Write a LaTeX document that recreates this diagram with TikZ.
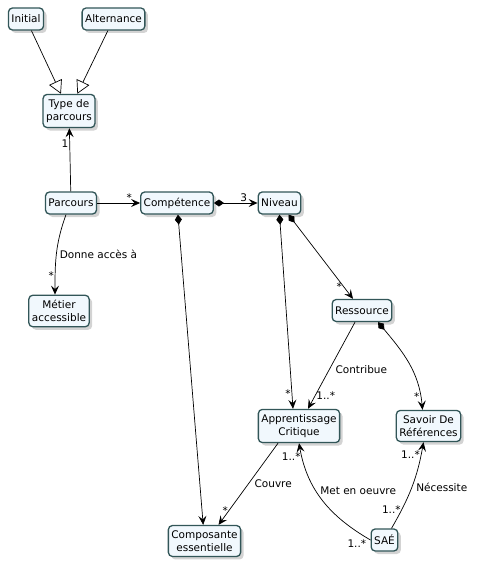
\documentclass[tikz,border=0pt]{standalone}
\usepackage{fontspec}
\setmainfont{DejaVu Sans}
\usetikzlibrary{positioning,arrows.meta,shadows}
\definecolor{boxfill}{RGB}{241,248,253}
\definecolor{boxline}{RGB}{50,86,88}
\tikzset{
  classe/.style={draw=boxline,fill=boxfill,line width=1.3pt,rounded corners=4pt,
    align=center,inner xsep=3pt,inner ysep=5pt,minimum height=22pt,
    font=\fontsize{10.5}{13}\selectfont,
    drop shadow={shadow xshift=3pt,shadow yshift=-3pt,opacity=0.35}},
  lien/.style={arrows={-Stealth[length=9pt,width=8pt,inset=3.5pt]},line width=0.7pt},
  compose/.style={arrows={Diamond[length=10pt,width=7pt]-Stealth[length=9pt,width=8pt,inset=3.5pt]},line width=0.7pt},
  herite/.style={arrows={-Triangle[open,length=13pt,width=14pt,fill=white]},line width=0.7pt},
  etiq/.style={font=\fontsize{10.5}{12}\selectfont,inner sep=1pt},
  mult/.style={font=\fontsize{10.5}{11}\selectfont,inner sep=1pt}
}
\begin{document}
\begin{tikzpicture}[x=1pt,y=1pt,on grid]
  \useasboundingbox (0,0) rectangle (484,-572);
  \node[classe] (parcours) at (71,-203) {Parcours};
  \node[classe] (competence) [right=106pt of parcours] {Compétence};
  \node[classe] (niveau) [right=102.5pt of competence] {Niveau};
  \node[classe] (type) [above=92pt of parcours,xshift=-2pt] {Type de\\parcours};
  \node[classe] (initial) [above left=92pt and 43pt of type] {Initial};
  \node[classe] (alternance) [above right=92pt and 44.5pt of type] {Alternance};
  \node[classe] (metier) [below left=108pt and 12pt of parcours] {Métier\\accessible};
  \node[classe] (ressource) [below right=107.5pt and 82.5pt of niveau] {Ressource};
  \node[classe] (apprentissage) [below left=115.5pt and 63pt of ressource] {Apprentissage\\Critique};
  \node[classe] (savoir) [right=129.5pt of apprentissage] {Savoir De\\Références};
  \node[classe] (composante) [below left=115pt and 94.5pt of apprentissage] {Composante\\essentielle};
  \node[classe] (sae) [below left=114pt and 44pt of savoir] {SAÉ};

  \draw[herite] (initial) -- (type);
  \draw[herite] (alternance) -- (type);
  \draw[lien] (parcours) -- node[mult,pos=0.76,left] {1} (type);
  \draw[lien] (parcours) -- node[mult,pos=0.75,above] {*} (competence);
  \draw[compose] (competence) -- node[etiq,pos=0.68,above] {3} (niveau);
  \draw[compose] (competence) -- (composante);
  \draw[lien] ([xshift=-5pt]parcours.south) to[out=-110,in=90]
    node[etiq,pos=0.5,right=2pt] {Donne accès à}
    node[mult,pos=0.78,left] {*} ([xshift=-4pt]metier.north);
  \draw[compose] (niveau.south) -- node[mult,pos=0.92,left] {*} ([xshift=-6pt]apprentissage.north);
  \draw[compose] ([xshift=9pt]niveau.south) -- node[mult,pos=0.85,left] {*} ([xshift=-9pt]ressource.north);
  \draw[lien] ([xshift=-7pt]ressource.south) --
    node[etiq,pos=0.55,right=5pt] {Contribue}
    node[mult,pos=0.85,right] {1..*} ([xshift=9pt]apprentissage.north);
  \draw[compose] ([xshift=16pt]ressource.south) to[out=-50,in=95]
    node[mult,pos=0.88,left] {*} ([xshift=-6pt]savoir.north);
  \draw[lien] ([xshift=-21pt]apprentissage.south) --
    node[etiq,pos=0.5,right=5pt] {Couvre}
    node[mult,pos=0.82,left] {*} ([xshift=14pt]composante.north);
  \draw[lien] (sae.west) to[out=150,in=-80]
    node[etiq,pos=0.6,right=3pt] {Met en oeuvre}
    node[mult,pos=0.9,left] {1..*}
    node[mult,pos=0,anchor=north east,xshift=-3pt,yshift=2pt] {1..*} (apprentissage.south);
  \draw[lien] ([xshift=7pt]sae.north) to[out=60,in=-100]
    node[etiq,pos=0.5,right=3pt] {Nécessite}
    node[mult,pos=0.88,left] {1..*}
    node[mult,pos=0.22,left] {1..*} ([xshift=-5pt]savoir.south);
\end{tikzpicture}
\end{document}
